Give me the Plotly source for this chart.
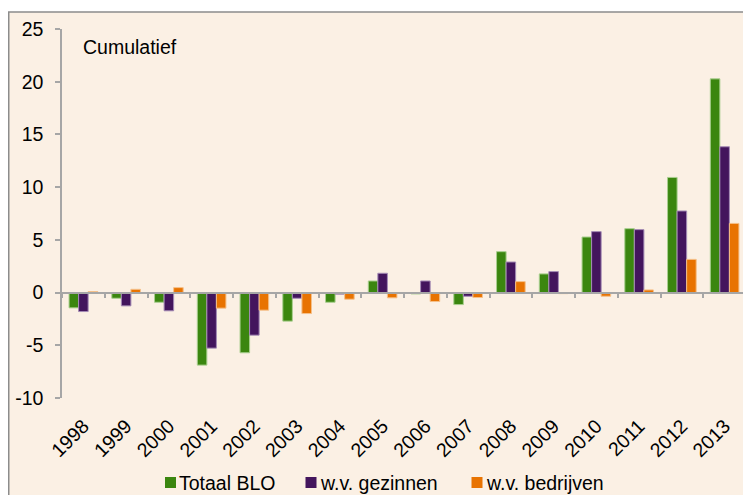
import plotly.graph_objects as go

years = ["1998", "1999", "2000", "2001", "2002", "2003", "2004", "2005",
         "2006", "2007", "2008", "2009", "2010", "2011", "2012", "2013"]
totaal_blo = [-1.45, -0.54, -0.92, -6.88, -5.71, -2.71, -0.92, 1.1,
              -0.13, -1.14, 3.88, 1.77, 5.27, 6.06, 10.92, 20.27]
gezinnen = [-1.8, -1.26, -1.73, -5.27, -4.04, -0.54, -0.15, 1.83,
            1.1, -0.35, 2.9, 1.99, 5.78, 5.97, 7.74, 13.83]
bedrijven = [0.1, 0.31, 0.47, -1.48, -1.67, -1.99, -0.63, -0.5,
             -0.85, -0.47, 1.04, -0.1, -0.35, 0.25, 3.15, 6.56]
series_names = ["Totaal BLO", "w.v. gezinnen", "w.v. bedrijven"]
y_tick_vals = [-10, -5, 0, 5, 10, 15, 20, 25]
y_tick_text = ["-10", "-5", "0", "5", "10", "15", "20", "25"]
colors = ["#3B860F", "#43155D", "#E87301"]
edge_colors = ["#A9CF8F", "#A48BB5", "#F5C08A"]

y_min, y_max = -10, 25
OFF = 8  # page body margin
W, H = 751 - OFF, 495 - OFF
ml, mr, mt, mb = 62 - OFF, 5, 29 - OFF, 97
pw, ph = W - ml - mr, H - mt - mb

def px_x(px):
    return (px - OFF - ml) / pw

def px_y(py):
    return (H - mb - (py - OFF)) / ph

FONT = "Liberation Sans, Arial, sans-serif"
FS = 19.5
BG = "#FBF0E4"

fig = go.Figure()
for name, vals, c, ec in zip(series_names, [totaal_blo, gezinnen, bedrijven], colors, edge_colors):
    fig.add_trace(go.Bar(x=years, y=vals, name=name, showlegend=False,
                         marker=dict(color=c, line=dict(color=ec, width=1))))

# helper trace for the axis drawn through zero
fig.add_trace(go.Scatter(x=years, y=[None] * len(years), xaxis="x2",
                         showlegend=False, hoverinfo="skip", mode="markers"))

fig.add_shape(type="rect", xref="paper", yref="paper",
              x0=px_x(8.75), x1=px_x(770), y0=px_y(520), y1=px_y(12),
              line=dict(color="#8C8C8C", width=1.5), fillcolor=BG, layer="below")

fig.add_annotation(text="Cumulatief", xref="paper", yref="paper",
                   x=px_x(81), y=px_y(47), xanchor="left", yanchor="middle",
                   showarrow=False, font=dict(family=FONT, size=FS, color="#000000"))

# legend (symbol squares + labels)
legend_sym_x = [165, 305.5, 471.5]
for name, c, sx in zip(series_names, colors, legend_sym_x):
    fig.add_shape(type="rect", xref="paper", yref="paper",
                  x0=px_x(sx), x1=px_x(sx + 11), y0=px_y(488), y1=px_y(477),
                  line=dict(width=0), fillcolor=c)
    fig.add_annotation(text=name, xref="paper", yref="paper",
                       x=px_x(sx + 12), y=px_y(483), xanchor="left", yanchor="middle",
                       showarrow=False, font=dict(family=FONT, size=FS, color="#000000"))

fig.update_layout(
    width=W, height=H,
    margin=dict(l=ml, r=mr, t=mt, b=mb, autoexpand=False),
    paper_bgcolor="#FFFFFF",
    plot_bgcolor=BG,
    barmode="group", bargap=0.33, bargroupgap=0,
    font=dict(family=FONT, size=FS, color="#000000"),
    showlegend=False,
    xaxis=dict(type="category", categoryorder="array", categoryarray=years,
               range=[-0.5, len(years) - 0.5], tickangle=-45, showline=False,
               ticks="", showgrid=False, zeroline=False, ticklabelstandoff=12,
               automargin=False, tickfont=dict(family=FONT, size=FS)),
    xaxis2=dict(type="category", categoryorder="array", categoryarray=years,
                range=[-0.5, len(years) - 0.5], overlaying="x", anchor="free",
                position=(0 - y_min) / (y_max - y_min), side="bottom",
                showline=True, linecolor="#A6A6A6", linewidth=1.5,
                ticks="outside", ticklen=5, tickcolor="#A6A6A6", tickwidth=1.5,
                tickson="boundaries", showticklabels=False, showgrid=False),
    yaxis=dict(range=[y_min, y_max], tickmode="array", tickvals=y_tick_vals,
               ticktext=y_tick_text, showgrid=False, zeroline=False,
               showline=True, linecolor="#A6A6A6", linewidth=1.5,
               ticks="outside", ticklen=5, tickcolor="#A6A6A6", tickwidth=1.5,
               automargin=False, tickfont=dict(family=FONT, size=FS),
               ticklabelstandoff=8),
)

fig.write_html("out.html")
